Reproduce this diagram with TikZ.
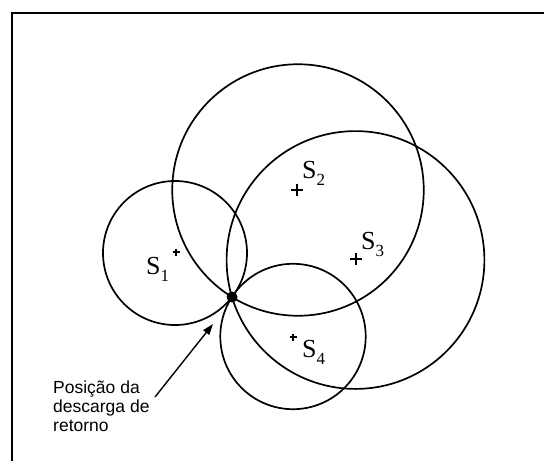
\documentclass[tikz,border=0pt]{standalone}
\usepackage{fontspec}
\setmainfont{Liberation Serif}
\newfontfamily\labelsans{Liberation Sans}
\usetikzlibrary{arrows.meta}
\newcommand{\Slab}[1]{\fontsize{26}{28}\selectfont S\raisebox{-7pt}{\fontsize{17}{17}\selectfont #1}}
\begin{document}
\begin{tikzpicture}[x=1pt,y=-1pt,
  ring/.style={draw, line width=1.7pt, circle, inner sep=0pt},
  slabel/.style={anchor=base west, inner sep=0pt},
  bigplus/.style={line width=1.4pt},
  smallplus/.style={line width=1.2pt},
  frameline/.style={line width=1.8pt}]
\useasboundingbox (0,0) rectangle (544,461);
\fill[white] (0,0) rectangle (544,461);
\draw[frameline] (12,461) -- (12,13) -- (544,13);

% circles (all passing through the strike point)
\node[ring, minimum size=144pt] (C1) at (175,253) {};
\node[ring, minimum size=251.5pt] (C2) at (298,190) {};
\node[ring, minimum size=257.8pt] (C3) at (355.5,260) {};
\node[ring, minimum size=145.4pt] (C4) at (293,336.5) {};

% sensor markers
\coordinate (m1) at (176,252);
\coordinate (m2) at (297,190);
\coordinate (m3) at (356,259);
\coordinate (m4) at (293,337);
\draw[smallplus] (m1) +(-3.5,0) -- +(3.5,0) (m1) +(0,-3.5) -- +(0,3.5);
\draw[bigplus] (m2) +(-6,0) -- +(6,0) (m2) +(0,-6) -- +(0,6);
\draw[bigplus] (m3) +(-6,0) -- +(6,0) (m3) +(0,-6) -- +(0,6);
\draw[smallplus] (m4) +(-3.5,0) -- +(3.5,0) (m4) +(0,-3.5) -- +(0,3.5);

% labels
\node[slabel] (L1) at (146,274) {\Slab{1}};
\node[slabel] (L2) at (302,178) {\Slab{2}};
\node[slabel] (L3) at (361,249) {\Slab{3}};
\node[slabel] (L4) at (302,357) {\Slab{4}};

% strike point
\node[circle, fill=black, inner sep=0pt, minimum size=11pt] (P) at (232,297) {};

% annotation
\node[anchor=north west, align=left, inner sep=0pt,
      font=\labelsans\fontsize{17.5}{19}\selectfont] (T) at (53,381)
      {Posição da\\descarga de\\retorno};
\coordinate (tail) at (155,397);
\coordinate (tip) at (213,324);
\draw[line width=1.4pt, -{Triangle[length=11pt,width=7.5pt]}] (tail) -- (tip);
\end{tikzpicture}
\end{document}
